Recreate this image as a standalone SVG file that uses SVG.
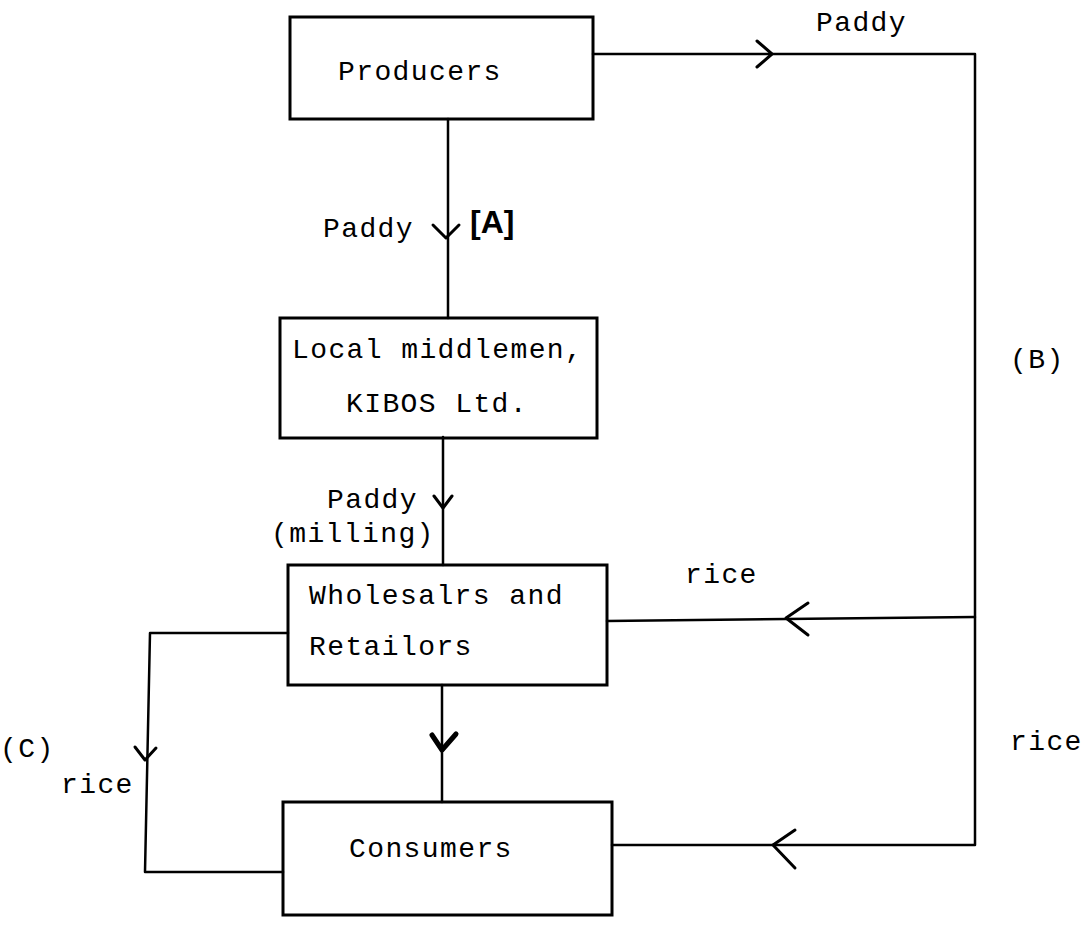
<svg xmlns="http://www.w3.org/2000/svg" width="1088" height="925" viewBox="0 0 1088 925">
<style>
.box{fill:none;stroke:#000;stroke-width:3}
.ln{fill:none;stroke:#000;stroke-width:2.5;stroke-linecap:round;stroke-linejoin:round}
.ar{fill:none;stroke:#000;stroke-width:3;stroke-linecap:round;stroke-linejoin:round}
.t{font-family:"Liberation Mono",monospace;font-size:28px;letter-spacing:1.4px;fill:#000}
</style>
<rect width="1088" height="925" fill="#fff"/>
<g id="connectors">
<polyline class="ln" points="593,54 975,54 975,845 612,845"/>
<line class="ln" x1="975" y1="617" x2="607" y2="621"/>
<line class="ln" x1="448" y1="119" x2="448" y2="318"/>
<line class="ln" x1="443" y1="437" x2="443" y2="565"/>
<line class="ln" x1="442" y1="685" x2="442" y2="802"/>
<polyline class="ln" points="288,633 150,633 145,872 283,872"/>
<polyline class="ar" points="757,41 772,54 757,67"/>
<polyline class="ar" points="433,225 446,238 459,225"/>
<polyline class="ar" points="434,496 443,508 452,496"/>
<polyline class="ar" style="stroke-width:5" points="432,735 442,750 456,734"/>
<polyline class="ar" points="135,747 145,760 156,748"/>
<polyline class="ar" points="808,603 786,618 808,635"/>
<polyline class="ar" points="795,830 773,845 795,868"/>
</g>
<g id="producers"><rect class="box" x="290" y="17" width="303" height="102"/><text class="t" x="338" y="80">Producers</text></g>
<g id="middlemen"><rect class="box" x="280" y="318" width="317" height="120"/><text class="t" x="292" y="358">Local middlemen,</text><text class="t" x="346" y="412">KIBOS Ltd.</text></g>
<g id="wholesalers"><rect class="box" x="288" y="565" width="319" height="120"/><text class="t" x="309" y="604">Wholesalrs and</text><text class="t" x="309" y="655">Retailors</text></g>
<g id="consumers"><rect class="box" x="283" y="802" width="329" height="113"/><text class="t" x="349" y="857">Consumers</text></g>
<g id="labels">
<text class="t" x="816" y="31">Paddy</text>
<text class="t" x="323" y="237">Paddy</text>
<text x="470" y="233" style="font-family:'Liberation Sans',sans-serif;font-size:32px;font-weight:bold;fill:#000">[A]</text>
<text class="t" x="327" y="508">Paddy</text>
<text class="t" x="271" y="542">(milling)</text>
<text class="t" x="685" y="583">rice</text>
<text class="t" x="1010" y="368">(B)</text>
<text class="t" x="1010" y="750">rice</text>
<text class="t" x="0" y="757">(C)</text>
<text class="t" x="61" y="793">rice</text>
</g>
</svg>
